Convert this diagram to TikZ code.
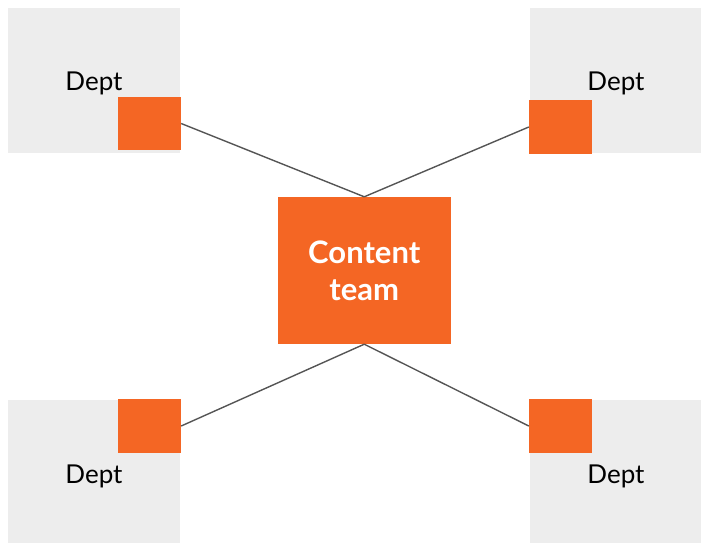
\documentclass[tikz,border=0pt]{standalone}
\usepackage{fontspec}
\setmainfont{Lato}
\definecolor{deptgray}{HTML}{EDEDED}
\definecolor{orng}{HTML}{F46624}
\definecolor{linegray}{HTML}{555555}
\begin{document}
\begin{tikzpicture}[x=1pt,y=-1pt,
  deptbox/.style={fill=deptgray,draw=none},
  port/.style={fill=orng,draw=none,inner sep=0pt,minimum width=63pt,minimum height=53.5pt},
  conn/.style={draw=linegray,line width=1.4pt},
  depttxt/.style={font=\fontsize{26}{30}\selectfont,text=black,inner sep=0pt}]
\useasboundingbox (0,0) rectangle (701,543);
% gray dept areas
\fill[deptgray] (8,8) rectangle (180,153);
\fill[deptgray] (530,8) rectangle (701,153);
\fill[deptgray] (8,400) rectangle (180,543);
\fill[deptgray] (530,400) rectangle (701,543);
% labels
\node[depttxt] (ltl) at (94,83) {Dept};
\node[depttxt] (ltr) at (616,83) {Dept};
\node[depttxt] (lbl) at (94,476) {Dept};
\node[depttxt] (lbr) at (616,476) {Dept};
% center
\node[fill=orng,inner sep=0pt,minimum width=173.5pt,minimum height=147pt,
  text=white,align=center,font=\bfseries\fontsize{31}{37}\selectfont] (c) at (364.25,270.5) {Content\\team};
% ports
\node[port] (ptl) at (149.5,123.5) {};
\node[port] (ptr) at (560.5,127) {};
\node[port] (pbl) at (149.5,426) {};
\node[port] (pbr) at (560.5,426) {};
% connectors
\draw[conn] (ptl.east) -- (c.north);
\draw[conn] (ptr.west) -- (c.north);
\draw[conn] (pbl.east) -- (c.south);
\draw[conn] (pbr.west) -- (c.south);
\end{tikzpicture}
\end{document}
